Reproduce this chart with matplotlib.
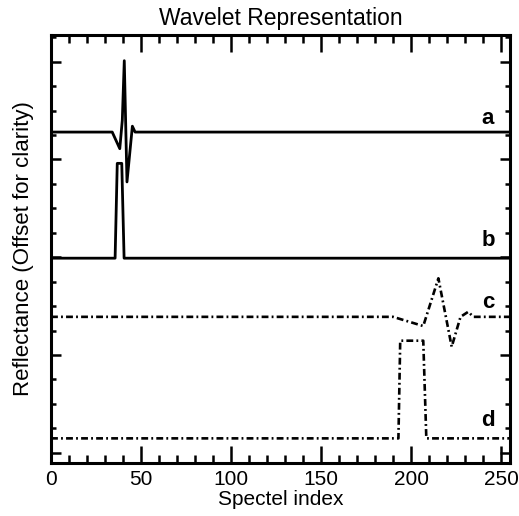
import matplotlib
matplotlib.use("Agg")
import matplotlib.pyplot as plt
from matplotlib.ticker import MultipleLocator, NullFormatter

plt.rcParams['font.family'] = ['Liberation Sans', 'DejaVu Sans']

# --- data (offset units; each trace shifted for clarity) ---------------------
a_x = [0, 34.0, 38.2, 39.6, 40.7, 42.2, 45.2, 46.7, 255]
a_y = [3.28, 3.28, 3.11, 3.40, 4.01, 2.77, 3.34, 3.28, 3.28]

b_x = [0, 35.6, 36.8, 39.3, 40.6, 255]
b_y = [1.99, 1.99, 2.96, 2.96, 1.99, 1.99]

c_x = [0, 190.0, 206.8, 215.2, 222.6, 227.5, 231.8, 234.6, 255]
c_y = [1.39, 1.39, 1.296, 1.784, 1.084, 1.39, 1.442, 1.39, 1.39]

d_x = [0, 193.0, 194.0, 206.8, 208.5, 255]
d_y = [0.147, 0.147, 1.146, 1.146, 0.147, 0.147]

labels = ['a', 'b', 'c', 'd']
label_y = [3.42, 2.17, 1.54, 0.33]

# --- figure ----------------------------------------------------------------
fig = plt.figure(figsize=(5.19, 5.16), dpi=100)
ax = fig.add_axes([0.0983, 0.1027, 0.8844, 0.8295])

dashdot = (0, (2.6, 1.2, 0.7, 1.2))
ax.plot(a_x, a_y, color='black', lw=2)
ax.plot(b_x, b_y, color='black', lw=2)
ax.plot(c_x, c_y, color='black', lw=1.9, linestyle=dashdot)
ax.plot(d_x, d_y, color='black', lw=1.9, linestyle=dashdot)

for lab, ly in zip(labels, label_y):
    ax.text(242.8, ly, lab, fontsize=16, fontweight='bold',
            ha='center', va='center')

ax.set_xlim(0, 255)
ax.set_ylim(-0.105, 4.273)

ax.xaxis.set_major_locator(MultipleLocator(50))
ax.xaxis.set_minor_locator(MultipleLocator(10))
ax.yaxis.set_major_locator(MultipleLocator(1))
ax.yaxis.set_minor_locator(MultipleLocator(0.25))
ax.yaxis.set_major_formatter(NullFormatter())

ax.tick_params(axis='x', which='major', direction='in', top=True,
               length=12, width=1.8, labelsize=15, pad=5)
ax.tick_params(axis='x', which='minor', direction='in', top=True,
               length=6, width=1.8)
ax.tick_params(axis='y', which='major', direction='in', right=True,
               length=7, width=1.8)
ax.tick_params(axis='y', which='minor', direction='in', right=True,
               length=3.5, width=1.8)

for sp in ax.spines.values():
    sp.set_linewidth(2.2)

ax.set_title("Wavelet Representation", fontsize=16.5, pad=7)
ax.set_xlabel("Spectel index", fontsize=15, labelpad=1)
ax.set_ylabel("Reflectance (Offset for clarity)", fontsize=16, labelpad=9)

fig.savefig("out.png", dpi=100)
